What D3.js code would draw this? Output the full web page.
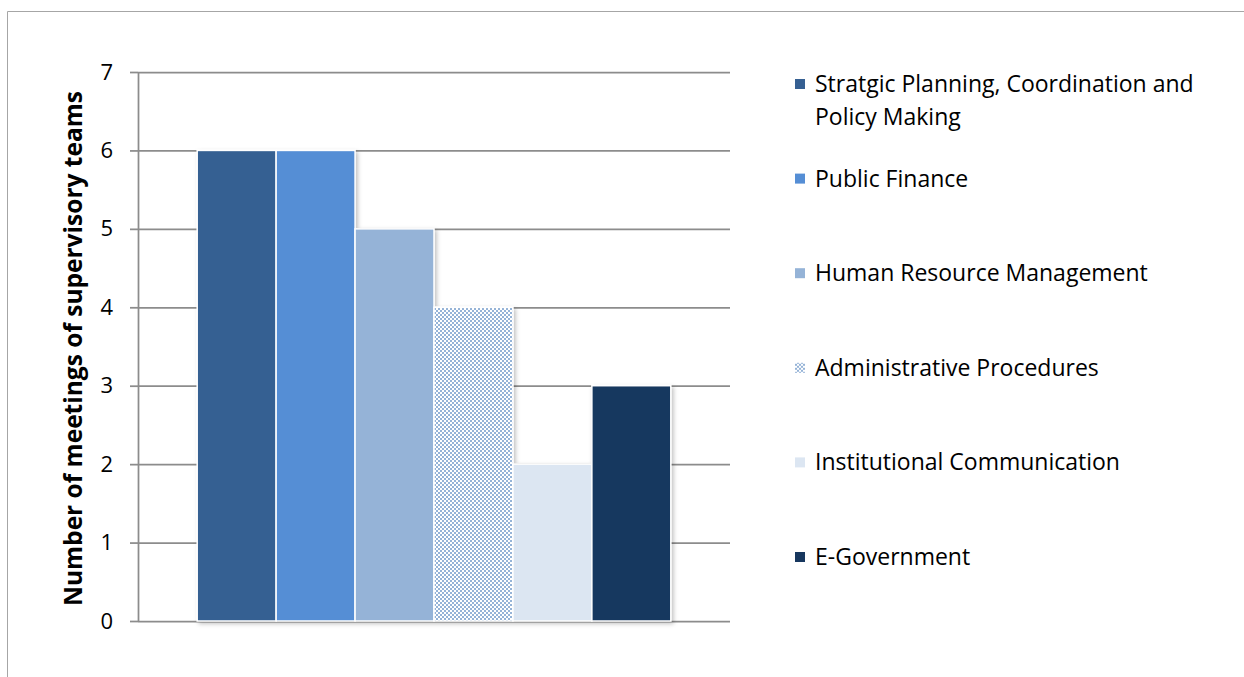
<!DOCTYPE html>
<html>
<head>
<meta charset="utf-8">
<script src="https://cdn.jsdelivr.net/npm/d3@7"></script>
<style>
  body { margin: 0; background: #fff; }
  text { font-family: "Open Sans", sans-serif; fill: #000; }
</style>
</head>
<body>
<div id="chart"></div>
<script>
// Data
const categories = ["All"];
const seriesNames = [
    "Stratgic Planning, Coordination and Policy Making",
    "Public Finance",
    "Human Resource Management",
    "Administrative Procedures",
    "Institutional Communication",
    "E-Government"
];
const seriesValues = [6, 6, 5, 4, 2, 3];
const yTicks = [0, 1, 2, 3, 4, 5, 6, 7];

const seriesColors = ["#366092", "#558ED5", "#95B3D7", "url(#checker)", "#DCE6F2", "#17375E"];

const W = 1244, H = 677;
const margin = { top: 72, right: 514, bottom: 56, left: 138 };
const width = W - margin.left - margin.right;
const height = H - margin.top - margin.bottom;
const gridColor = "#8c8c8c";

const root = d3.select("#chart")
    .append("svg")
    .attr("width", W)
    .attr("height", H);

const defs = root.append("defs");

// checker pattern for Administrative Procedures
const pat = defs.append("pattern")
    .attr("id", "checker")
    .attr("patternUnits", "userSpaceOnUse")
    .attr("width", 4)
    .attr("height", 4);
pat.append("rect").attr("width", 4).attr("height", 4).attr("fill", "#ffffff");
pat.append("rect").attr("x", 0).attr("y", 0).attr("width", 2).attr("height", 2).attr("fill", "#95B3D7");
pat.append("rect").attr("x", 2).attr("y", 2).attr("width", 2).attr("height", 2).attr("fill", "#95B3D7");

// soft shadow under bars
const shadow = defs.append("filter")
    .attr("id", "shadow")
    .attr("x", "-10%").attr("y", "-10%")
    .attr("width", "130%").attr("height", "130%");
shadow.append("feDropShadow")
    .attr("dx", 2).attr("dy", 2)
    .attr("stdDeviation", 2)
    .attr("flood-color", "#000")
    .attr("flood-opacity", 0.25);

// outer frame (only left and top edges visible)
root.append("path")
    .attr("d", `M7.5,${H} L7.5,11.5 L${W},11.5`)
    .attr("fill", "none")
    .attr("stroke", "#a6a6a6")
    .attr("stroke-width", 1);

const svg = root.append("g")
    .attr("transform", "translate(" + margin.left + "," + margin.top + ")");

// scales
const x0 = d3.scaleBand().domain(categories).range([0, width]).paddingInner(0.2).paddingOuter(0.1);
const x1 = d3.scaleBand().domain(seriesNames).range([0, x0.bandwidth()]).padding(0);
const y = d3.scaleLinear().domain([0, 7]).range([height, 0]);

// gridlines
svg.append("g")
    .attr("class", "grid")
    .call(d3.axisLeft(y).tickValues(yTicks).tickSize(-width).tickFormat(""))
    .call(g => g.select(".domain").remove())
    .selectAll("line")
    .attr("stroke", gridColor)
    .attr("stroke-width", 1.75);

// y axis
svg.append("g")
    .call(d3.axisLeft(y).tickValues(yTicks).tickFormat(d3.format("d")).tickSize(8).tickSizeOuter(0).tickPadding(17))
    .call(g => g.select(".domain").attr("stroke", gridColor).attr("stroke-width", 1.75))
    .call(g => g.selectAll(".tick line").attr("stroke", gridColor).attr("stroke-width", 1.75))
    .selectAll("text")
    .style("font-family", "'Open Sans', sans-serif")
    .style("font-size", "22px")
    .attr("fill", "#000");

// bars
const bars = svg.append("g").attr("filter", "url(#shadow)");
categories.forEach(cat => {
    bars.selectAll("rect.bar")
        .data(seriesNames.map((name, i) => ({ name: name, value: seriesValues[i], i: i })))
        .enter().append("rect")
        .attr("class", "bar")
        .attr("x", d => x0(cat) + x1(d.name))
        .attr("y", d => y(d.value))
        .attr("width", x1.bandwidth())
        .attr("height", d => y(0) - y(d.value))
        .attr("fill", d => seriesColors[d.i])
        .attr("stroke", "#ffffff")
        .attr("stroke-width", 1.5);
});

// y-axis title
svg.append("text")
    .attr("transform", "rotate(-90)")
    .attr("x", -height / 2 - 2)
    .attr("y", -56)
    .style("text-anchor", "middle")
    .style("font-size", "24.5px")
    .style("font-weight", "bold")
    .text("Number of meetings of supervisory teams");

// legend
const legend = root.append("g")
    .attr("class", "legend")
    .attr("transform", "translate(795,84)");

seriesNames.forEach((name, i) => {
    const row = legend.append("g").attr("transform", "translate(0," + (i * 94.6) + ")");
    row.append("rect")
        .attr("x", 0)
        .attr("y", -5)
        .attr("width", 10)
        .attr("height", 10)
        .attr("fill", seriesColors[i]);

    const t = row.append("text")
        .attr("x", 20)
        .attr("y", 0)
        .style("font-size", "23px");

    // wrap long names onto a second line
    const words = name.split(" ");
    let line = [];
    let tspan = t.append("tspan").attr("x", 20).attr("dy", "0.35em");
    words.forEach(w => {
        line.push(w);
        tspan.text(line.join(" "));
        if (tspan.node().getComputedTextLength() > 400 && line.length > 1) {
            line.pop();
            tspan.text(line.join(" "));
            line = [w];
            tspan = t.append("tspan").attr("x", 20).attr("dy", "33px").text(w);
        }
    });
});
</script>
</body>
</html>
